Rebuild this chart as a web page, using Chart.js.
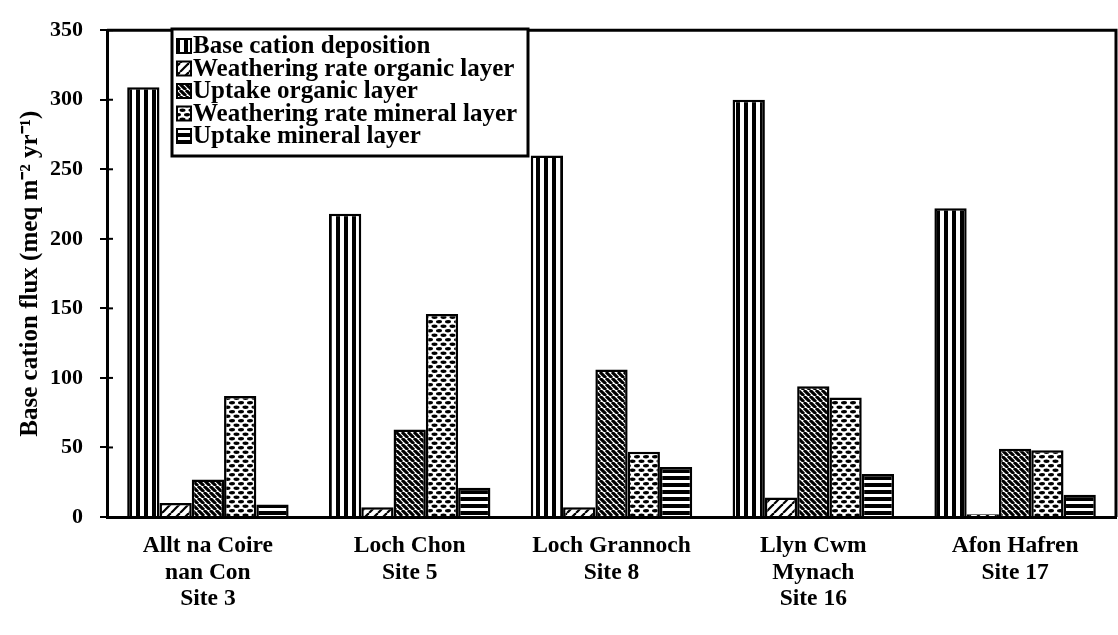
<!DOCTYPE html>
<html>
<head>
<meta charset="utf-8">
<script src="https://cdn.jsdelivr.net/npm/chart.js@4.4.0/dist/chart.umd.min.js"></script>
<style>
  html, body { margin: 0; padding: 0; background: #fff; }
  #wrap { width: 1118px; height: 635px; }
</style>
</head>
<body>
<div id="wrap"><canvas id="flux_chart"></canvas></div>
<script>
// sites along the x axis (one label line per array entry)
var sites = [
    ["Allt na Coire", "nan Con", "Site 3"],
    ["Loch Chon", "Site 5"],
    ["Loch Grannoch", "Site 8"],
    ["Llyn Cwm", "Mynach", "Site 16"],
    ["Afon Hafren", "Site 17"]
];
var seriesNames = [
    "Base cation deposition",
    "Weathering rate organic layer",
    "Uptake organic layer",
    "Weathering rate mineral layer",
    "Uptake mineral layer"
];
// meq m-2 yr-1
var baseDeposition = [309, 218, 260, 300, 222];
var weatheringOrganic = [10, 7, 7, 14, 2];
var uptakeOrganic = [27, 63, 106, 94, 49];
var weatheringMineral = [87, 146, 47, 86, 48];
var uptakeMineral = [9, 21, 36, 31, 16];
var yTicks = [0, 50, 100, 150, 200, 250, 300, 350];

var FONT = "'Liberation Serif', 'Times New Roman', serif";

// hatch fills, like the old b/w print
function makePattern(kind) {
    var t = document.createElement('canvas');
    var g = t.getContext('2d');
    var s, i;
    if (kind == 'vert') {
        t.width = 8; t.height = 8;
        g.fillStyle = '#fff'; g.fillRect(0, 0, 8, 8);
        g.fillStyle = '#000'; g.fillRect(0, 0, 4, 8);
    } else if (kind == 'slash') {
        s = 9; t.width = s; t.height = s;
        g.fillStyle = '#fff'; g.fillRect(0, 0, s, s);
        g.strokeStyle = '#000'; g.lineWidth = 2.2;
        for (i = -s; i <= s; i += s) {
            g.beginPath(); g.moveTo(i, s); g.lineTo(i + s, 0); g.stroke();
        }
    } else if (kind == 'backslash') {
        s = 6; t.width = s; t.height = s;
        g.fillStyle = '#fff'; g.fillRect(0, 0, s, s);
        g.strokeStyle = '#000'; g.lineWidth = 3.1;
        for (i = -s; i <= s; i += s) {
            g.beginPath(); g.moveTo(i, 0); g.lineTo(i + s, s); g.stroke();
        }
    } else if (kind == 'dots') {
        t.width = 9; t.height = 9;
        g.fillStyle = '#fff'; g.fillRect(0, 0, 9, 9);
        g.fillStyle = '#000';
        [[2.5, 2.2], [7, 6.7], [-2, 6.7], [11.5, 2.2]].forEach(function (p) {
            g.beginPath(); g.ellipse(p[0], p[1], 3, 1.7, 0, 0, Math.PI * 2); g.fill();
        });
    } else {
        t.width = 8; t.height = 7;
        g.fillStyle = '#fff'; g.fillRect(0, 0, 8, 7);
        g.fillStyle = '#000'; g.fillRect(0, 0, 8, 4);
    }
    return g.createPattern(t, 'repeat');
}

var fills = [makePattern('vert'), makePattern('slash'), makePattern('backslash'), makePattern('dots'), makePattern('horiz')];
var values = [baseDeposition, weatheringOrganic, uptakeOrganic, weatheringMineral, uptakeMineral];

var datasets = [];
for (var k = 0; k < seriesNames.length; k++) {
    datasets.push({
        label: seriesNames[k],
        data: values[k],
        backgroundColor: fills[k],
        borderColor: '#000',
        borderWidth: 2.5,
        borderSkipped: 'bottom',
        categoryPercentage: 0.8,
        barPercentage: 1.0
    });
}

// frame, inner tick marks and the boxed legend
var extras = {
    id: 'extras',
    afterDatasetsDraw: function (chart) {
        var ctx = chart.ctx, a = chart.chartArea, y = chart.scales.y;
        ctx.save();
        ctx.strokeStyle = '#000';
        ctx.lineWidth = 3;
        ctx.beginPath();
        ctx.moveTo(a.left, a.top); ctx.lineTo(a.right, a.top); ctx.lineTo(a.right, a.bottom);
        ctx.stroke();
        ctx.lineWidth = 2;
        yTicks.forEach(function (v) {
            var py = y.getPixelForValue(v);
            ctx.beginPath(); ctx.moveTo(a.left, py); ctx.lineTo(a.left + 6, py); ctx.stroke();
        });

        // legend
        var lx = 172, ly = 29, lw = 356, lh = 127, row = 22.5;
        ctx.fillStyle = '#fff';
        ctx.fillRect(lx, ly, lw, lh);
        ctx.lineWidth = 3;
        ctx.strokeRect(lx, ly, lw, lh);
        ctx.font = 'bold 25px ' + FONT;
        ctx.textBaseline = 'middle';
        chart.data.datasets.forEach(function (ds, i) {
            var cy = ly + 17 + i * row;
            ctx.fillStyle = ds.backgroundColor;
            ctx.fillRect(lx + 5, cy - 7, 14, 14);
            ctx.lineWidth = 2;
            ctx.strokeRect(lx + 5, cy - 7, 14, 14);
            ctx.fillStyle = '#000';
            ctx.fillText(ds.label, lx + 21, cy + 1);
        });
        ctx.restore();
    }
};

var ctx = document.getElementById("flux_chart").getContext("2d");
var fluxChart = new Chart(ctx, {
    type: 'bar',
    data: { labels: sites, datasets: datasets },
    plugins: [extras],
    options: {
        responsive: true,
        maintainAspectRatio: false,
        animation: false,
        layout: { padding: { top: 17, right: 2, left: 0, bottom: 0 } },
        plugins: {
            legend: { display: false },
            tooltip: { enabled: false }
        },
        scales: {
            x: {
                grid: { display: false, drawTicks: false },
                border: { display: true, color: '#000', width: 3 },
                ticks: {
                    color: '#000',
                    padding: 16,
                    maxRotation: 0,
                    autoSkip: false,
                    font: { family: FONT, size: 23.5, weight: 'bold', lineHeight: 1.13 }
                },
                afterFit: function (scale) { scale.height = 118; }
            },
            y: {
                min: 0,
                max: 350,
                afterBuildTicks: function (scale) {
                    scale.ticks = yTicks.map(function (v) { return { value: v }; });
                },
                grid: { drawOnChartArea: false, drawTicks: true, tickLength: 7, color: '#000', lineWidth: 2 },
                border: { display: true, color: '#000', width: 3 },
                ticks: {
                    color: '#000',
                    padding: 17,
                    font: { family: FONT, size: 22, weight: 'bold' }
                },
                title: {
                    display: true,
                    text: 'Base cation flux (meq m\u207B\u00B2 yr\u207B\u00B9)',
                    color: '#000',
                    padding: { top: 17, bottom: 0 },
                    font: { family: FONT, size: 25, weight: 'bold', lineHeight: 1.1 }
                },
                afterFit: function (scale) { scale.width = 107; }
            }
        }
    }
});
</script>
</body>
</html>
